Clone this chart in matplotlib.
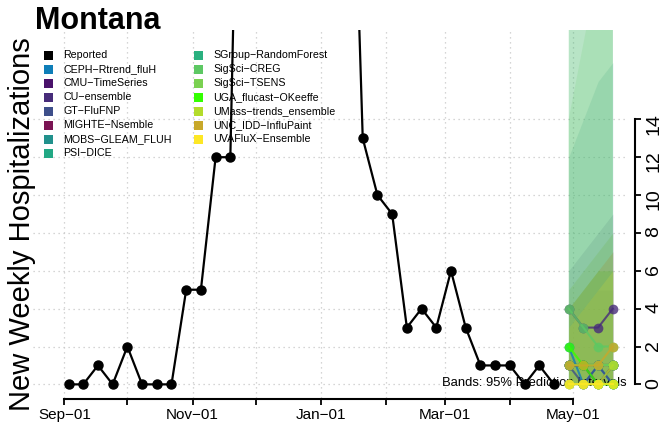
import matplotlib
matplotlib.use('Agg')
import matplotlib.pyplot as plt
import matplotlib.dates as mdates
from matplotlib.patches import Rectangle
import pandas as pd

plt.rcParams['font.family'] = ['Liberation Sans', 'DejaVu Sans']

# reported weekly hospitalizations, weeks ending on Saturday
report_start = '2022-09-03'
reported = [0, 0, 1, 0, 2, 0, 0, 0, 5, 5, 12, 12,
            48, 80, 110, 95, 120, 85, 60, 38,
            13, 10, 9, 3, 4, 3, 6, 3, 1, 1, 1, 0, 1, 0]

# forecasts (4 weekly horizons)
forecast_start = '2023-04-29'
models = ['CEPH\u2212Rtrend_fluH', 'CMU\u2212TimeSeries', 'CU\u2212ensemble',
          'GT\u2212FluFNP', 'MIGHTE\u2212Nsemble', 'MOBS\u2212GLEAM_FLUH',
          'PSI\u2212DICE', 'SGroup\u2212RandomForest', 'SigSci\u2212CREG',
          'SigSci\u2212TSENS', 'UGA_flucast\u2212OKeeffe',
          'UMass\u2212trends_ensemble', 'UNC_IDD\u2212InfluPaint',
          'UVAFluX\u2212Ensemble']
model_colors = ['#0E7EB8', '#4A126B', '#472C7A', '#3E4F8A', '#7A1353',
                '#21918C', '#22A884', '#2AB07F', '#5DC863', '#7AD151',
                '#33FF00', '#B3DC2B', '#C8A82A', '#FDE725']
medians = [[2, 0, 1, 0], [1, 1, 0, 1], [4, 3, 3, 4], [1, 0, 1, 0],
           [1, 1, 1, 1], [1, 1, 1, 1], [0, 0, 0, 0], [1, 1, 1, 1],
           [4, 3, 2, 2], [1, 1, 1, 1], [2, 1, 0, 0], [0, 0, 0, 1],
           [1, 1, 1, 2], [0, 0, 0, 0]]
upper_95 = [[5, 6, 7, 8], [4, 5, 6, 6], [6, 7, 8, 9], [3, 4, 5, 5],
            [4, 5, 6, 7], [12, 14, 16, 17], [25, 25, 25, 25], [22, 24, 26, 28],
            [14, 18, 22, 26], [20, 25, 30, 35], [4, 5, 6, 6], [5, 6, 7, 8],
            [4, 5, 6, 7], [3, 4, 5, 6]]
lower_95 = [0, 0, 0, 0]

month_ticks = pd.date_range('2022-09-01', '2023-05-01', freq='MS')
month_labels = ['Sep\u221201', '', 'Nov\u221201', '', 'Jan\u221201', '',
                'Mar\u221201', '', 'May\u221201']

W, H = 663, 433
fig = plt.figure(figsize=(W / 100, H / 100), dpi=100)
ax = fig.add_axes([33 / W, 1 - 398 / H, (625 - 33) / W, (398 - 30) / H])

rep_dates = pd.date_range(report_start, periods=len(reported), freq='7D')
fc_dates = pd.date_range(forecast_start, periods=4, freq='7D')

# 95% bands
for up, col in zip(upper_95, model_colors):
    ax.fill_between(fc_dates, lower_95, up, color=col, alpha=0.15, lw=0, zorder=2)

ax.text(1.003, 0.041, 'Bands: 95% Prediction Intervals', transform=ax.transAxes,
        ha='right', va='center', fontsize=9.4, zorder=3)

# median forecasts
for med, col in zip(medians, model_colors):
    ax.plot(fc_dates, med, '-o', color=col, alpha=0.8, lw=1.5, ms=7, mew=0, zorder=4)

ax.plot(rep_dates, reported, '-o', color='black', lw=1.6, ms=6.5, zorder=5)

tick_nums = mdates.date2num(month_ticks)
sep1 = tick_nums[0]
ax.set_xlim(sep1 - 14.9, sep1 + 266.8)
ax.set_ylim(-0.72, 18.72)

ax.set_xticks(tick_nums)
ax.set_xticklabels(month_labels)
ax.set_yticks(range(0, 15, 2))
ax.yaxis.tick_right()
ax.tick_params(axis='x', labelsize=11, length=4.5, width=1.3, pad=2)
ax.tick_params(axis='y', labelsize=14, length=4.5, width=1.3, pad=3, labelrotation=90)
ax.grid(True, color='#c8c8c8', lw=0.9, ls=(0, (1, 3)), zorder=0)

for s in ['top', 'left']:
    ax.spines[s].set_visible(False)
ax.spines['right'].set_position(('outward', 7))
ax.spines['right'].set_bounds(0, 14)
ax.spines['bottom'].set_position(('outward', 1))
ax.spines['bottom'].set_bounds(tick_nums[0], tick_nums[-1])
for s in ['right', 'bottom']:
    ax.spines[s].set_linewidth(1.5)

fig.text(22 / W, 1 - 224 / H, 'New Weekly Hospitalizations', rotation=90,
         ha='center', va='center', fontsize=21)
fig.text(35 / W, 1 - 21 / H, 'Montana', fontsize=22, fontweight='bold',
         ha='left', va='center')

# legend, two columns of coloured squares
leg_names = ['Reported'] + models
leg_colors = ['black'] + model_colors
for i, (name, col) in enumerate(zip(leg_names, leg_colors)):
    xs = [44, 194][i // 8]
    yc = 55.3 + 14 * (i % 8)
    fig.patches.append(Rectangle((xs / W, 1 - (yc + 4.3) / H), 8.7 / W, 8.7 / H,
                                 transform=fig.transFigure, color=col, lw=0))
    fig.text((xs + 19) / W, 1 - yc / H, name, fontsize=7.7, ha='left', va='center')

fig.savefig('out.png', dpi=100)
